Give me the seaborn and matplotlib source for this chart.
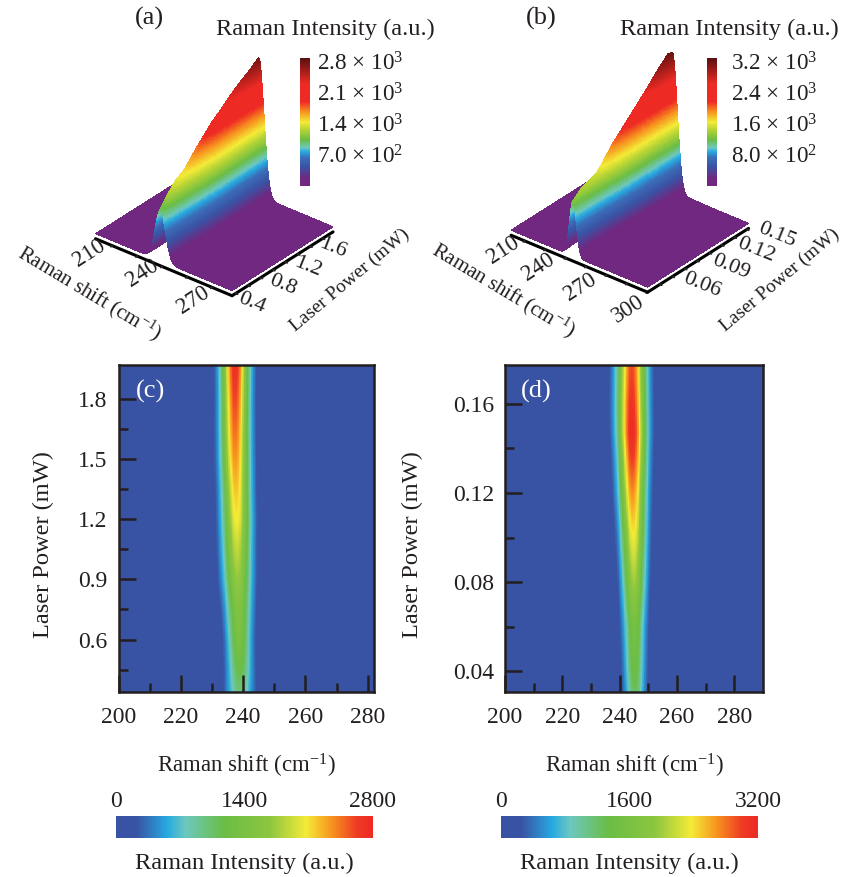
import numpy as np
import pandas as pd
import matplotlib
matplotlib.use("Agg")
import matplotlib.pyplot as plt
from matplotlib.colors import LinearSegmentedColormap, Normalize
from matplotlib.cm import ScalarMappable
from matplotlib.ticker import FixedLocator
import seaborn as sns

# ---- values: peak height / centre / width against laser power
power_c = [0.34, 0.45, 0.60, 0.75, 0.90, 1.05, 1.20, 1.35, 1.50, 1.65, 1.80, 1.97]
height_c = [1000, 1200, 1400, 1500, 1700, 1880, 2070, 2200, 2350, 2480, 2600, 2750]
centre_c = [238.9, 238.9, 238.7, 238.5, 238.2, 238.0, 237.9, 237.7, 237.5, 237.4, 237.4, 237.4]
sigma_c = [3.1, 2.9, 2.8, 3.0, 3.2, 3.25, 3.25, 3.2, 3.2, 3.15, 3.1, 3.1]

power_d = [0.03, 0.04, 0.06, 0.08, 0.10, 0.12, 0.135, 0.147, 0.16, 0.17, 0.178]
height_d = [1250, 1400, 1550, 2000, 2350, 2700, 3000, 3200, 3100, 3000, 2950]
centre_d = [245.3, 245.2, 245.1, 245.0, 244.8, 244.5, 244.4, 244.3, 244.2, 244.2, 244.2]
sigma_d = [2.5, 2.55, 2.7, 2.9, 3.1, 3.3, 3.4, 3.5, 3.55, 3.55, 3.55]

xlim_c, ylim_c = (200, 282), (0.339, 1.968)
xlim_d, ylim_d = (200, 290), (0.0306, 0.1775)
ylim_b = (0.03, 0.152)
xticks_maj = [200, 220, 240, 260, 280]
xticks_min = [210, 230, 250, 270]
yticks_c_maj = [0.6, 0.9, 1.2, 1.5, 1.8]
yticks_c_min = [0.45, 0.75, 1.05, 1.35, 1.65]
yticks_d_maj = [0.04, 0.08, 0.12, 0.16]
yticks_d_min = [0.06, 0.10, 0.14]

vmax_c, vmax_d = 2800, 3200
vmax3d_a, vmax3d_b = 2870, 3280
cbar3d_a = [700, 1400, 2100, 2800]
cbar3d_a_lab = [r"7.0 × 10$^{2}$", r"1.4 × 10$^{3}$", r"2.1 × 10$^{3}$", r"2.8 × 10$^{3}$"]
cbar3d_b = [800, 1600, 2400, 3200]
cbar3d_b_lab = [r"8.0 × 10$^{2}$", r"1.6 × 10$^{3}$", r"2.4 × 10$^{3}$", r"3.2 × 10$^{3}$"]
x3d_a = [210, 240, 270]
x3d_a_min = [225, 255]
y3d_a = [0.4, 0.8, 1.2, 1.6]
y3d_a_min = [0.6, 1.0, 1.4, 1.8]
x3d_b = [210, 240, 270, 300]
x3d_b_min = [225, 255, 285]
y3d_b = [0.06, 0.09, 0.12, 0.15]
y3d_b_min = [0.045, 0.075, 0.105, 0.135]

# colour stops as seen in the two kinds of colour bars
stops_flat = [(0, "#3953A4"), (0.08, "#3953A4"), (0.20, "#27AAE1"), (0.27, "#6DC8BF"), (0.42, "#6ABD45"),
              (0.60, "#8DC63F"), (0.74, "#F4EB37"), (0.84, "#F7941E"), (0.94, "#EE3A24"), (1, "#EE2A24")]
stops_3d = [(0, "#702880"), (0.06, "#702880"), (0.15, "#3953A4"), (0.22, "#3A6DB8"), (0.27, "#27AAE1"), (0.30, "#6DC8BF"),
            (0.36, "#6ABD45"), (0.44, "#B5D334"), (0.50, "#F4EB37"), (0.58, "#F7941E"), (0.66, "#EE2A24"),
            (0.80, "#EE2A24"), (1, "#5A1010")]
cmap_flat = LinearSegmentedColormap.from_list("flat", stops_flat, N=512)
cmap_3d = LinearSegmentedColormap.from_list("rise", stops_3d, N=512)

sns.set_theme(style="white")
plt.rcParams["font.family"] = ["Liberation Serif", "DejaVu Sans"]
plt.rcParams["mathtext.fontset"] = "custom"
plt.rcParams["mathtext.rm"] = "Liberation Serif"
plt.rcParams["mathtext.default"] = "regular"
plt.rcParams["text.color"] = "#231F20"
FS = 17
FT = 17.6
FTAG = 19
W, H = 842, 877
INK = "#231F20"

fig = plt.figure(figsize=(W / 100, H / 100), dpi=100, facecolor="white")


def box(l, t, r, b):
    return [l / W, 1 - b / H, (r - l) / W, (b - t) / H]


def field(xs, ps, power, height, centre, sigma):
    h = np.interp(ps, power, height)
    c = np.interp(ps, power, centre)
    s = np.interp(ps, power, sigma)
    return h[:, None] * np.exp(-((xs[None, :] - c[:, None]) ** 2) / (2 * s[:, None] ** 2))


def flat_panel(rect, crect, xlim, ylim, power, height, centre, sigma, vmax, ymaj, ymin_t, yfmt, tag, tagpos, ctick, ylab_x):
    ax = fig.add_axes(box(*rect))
    cax = fig.add_axes(box(*crect))
    xs = np.linspace(xlim[0], xlim[1], 400)
    ps = np.linspace(ylim[1], ylim[0], 330)
    df = pd.DataFrame(field(xs, ps, power, height, centre, sigma), index=ps, columns=xs)
    sns.heatmap(df, ax=ax, cmap=cmap_flat, vmin=0, vmax=vmax, cbar=True, cbar_ax=cax,
                cbar_kws={"orientation": "horizontal"}, xticklabels=False, yticklabels=False, rasterized=True)
    ax.set_axisbelow(False)
    fx = lambda v: (np.asarray(v) - xlim[0]) / (xlim[1] - xlim[0]) * len(xs)
    fy = lambda v: (ylim[1] - np.asarray(v)) / (ylim[1] - ylim[0]) * len(ps)
    ax.set_xticks(fx(xticks_maj))
    ax.set_xticklabels([str(v) for v in xticks_maj], fontsize=FS, color=INK, rotation=0)
    ax.xaxis.set_minor_locator(FixedLocator(fx(xticks_min)))
    ax.set_yticks(fy(ymaj))
    ax.set_yticklabels([yfmt % v for v in ymaj], fontsize=FS, color=INK, rotation=0)
    ax.yaxis.set_minor_locator(FixedLocator(fy(ymin_t)))
    ax.tick_params(which="major", direction="in", length=12, width=1.8, color=INK, bottom=True, left=True)
    ax.tick_params(which="minor", direction="in", length=6.5, width=1.8, color=INK, bottom=True, left=True)
    ax.tick_params(axis="x", which="major", pad=11)
    ax.tick_params(axis="y", which="major", pad=8)
    for s in ax.spines.values():
        s.set_visible(True)
        s.set_linewidth(1.8)
        s.set_color(INK)
    ax.set_xlabel(r"Raman shift (cm$^{-1}$)", fontsize=16.5, color=INK, labelpad=17)
    ax.set_ylabel("Laser Power (mW)", fontsize=FT, color=INK)
    ax.yaxis.set_label_coords(ylab_x, 0.45)
    ax.text(tagpos[0], tagpos[1], tag, transform=ax.transAxes, color="white", fontsize=FTAG, ha="center", va="center")
    cax.xaxis.set_ticks_position("top")
    cax.xaxis.set_label_position("bottom")
    cax.set_xticks(ctick)
    cax.set_xticklabels([str(v) for v in ctick], fontsize=FS, color=INK)
    cax.tick_params(axis="x", length=0, pad=3)
    cax.set_xlabel("Raman Intensity (a.u.)", fontsize=FT, color=INK, labelpad=11)
    for s in cax.spines.values():
        s.set_visible(False)


flat_panel((118.5, 365, 374, 692), (116, 816, 373, 838), xlim_c, ylim_c, power_c, height_c, centre_c, sigma_c,
           vmax_c, yticks_c_maj, yticks_c_min, "%.1f", "(c)", (0.125, 0.92), [0, 1400, 2800], -0.252)
flat_panel((505, 365, 763, 692), (501, 816, 758, 838), xlim_d, ylim_d, power_d, height_d, centre_d, sigma_d,
           vmax_d, yticks_d_maj, yticks_d_min, "%.2f", "(d)", (0.12, 0.92), [0, 1600, 3200], -0.317)


def pin_label(text, px, py):
    """Keep a 3D axis or tick label at a fixed place on the figure."""
    orig = text.draw

    def draw(renderer):
        text._transform = fig.transFigure
        text.set_position((px / W, 1 - py / H))
        text.set_ha("center")
        text.set_va("center")
        text.set_rotation_mode("anchor")
        orig(renderer)

    text.draw = draw


def surf_panel(rect, crect, xlim, ylim, power, height, centre, sigma, vmax, xt, xm, yt, ym, yfmt, ct, ctl,
               tag, tagxy, titlexy, cpad, xlab_xy, ylab_xy, xt_xy, yt_xy):
    ax = fig.add_axes(box(*rect), projection="3d", computed_zorder=False)
    ax.patch.set_alpha(0)
    ax.set_proj_type("ortho")
    ax.view_init(elev=30.9, azim=-50.9)
    xs = np.concatenate([np.linspace(xlim[0], 226, 4), np.linspace(226, 256, 300)[1:], np.linspace(256, xlim[1], 4)[1:]])
    ps = np.linspace(ylim[0], ylim[1], 120)
    Z = field(xs, ps, power, height, centre, sigma)
    X, Y = np.meshgrid(xs, ps)
    ax.plot_surface(X, Y, Z, cmap=cmap_3d, vmin=0, vmax=vmax, rstride=1, cstride=1, linewidth=0, antialiased=False, shade=False)
    zoff = 0.035 * vmax
    ax.set_xlim(*xlim)
    ax.set_ylim(*ylim)
    ax.set_zlim(-zoff, vmax)
    ax.set_box_aspect((179, 163, 177), zoom=0.894)
    xall = sorted(xt + xm)
    yall = sorted(yt + ym)
    yall = [v for v in yall if ylim[0] <= v <= ylim[1]]
    ax.set_xticks(xall)
    ax.set_xticklabels([str(v) if v in xt else "" for v in xall], fontsize=16.5, color=INK, rotation=33)
    ax.set_yticks(yall)
    ax.set_yticklabels([yfmt % v if v in yt else "" for v in yall], fontsize=16, color=INK, rotation=-22)
    ax.set_zticks([])
    ax.xaxis.set_rotate_label(False)
    ax.yaxis.set_rotate_label(False)
    ax.set_xlabel(r"Raman shift (cm$^{-1}$)", fontsize=15, color=INK, rotation=-31)
    ax.set_ylabel("Laser Power (mW)", fontsize=14, color=INK, rotation=40)
    pin_label(ax.xaxis.label, *xlab_xy)
    pin_label(ax.yaxis.label, *ylab_xy)
    for tick, v in zip(ax.xaxis.get_major_ticks(), xall):
        if v in xt:
            pin_label(tick.label1, *xt_xy[xt.index(v)])
    for tick, v in zip(ax.yaxis.get_major_ticks(), yall):
        if v in yt:
            pin_label(tick.label1, *yt_xy[yt.index(v)])
    for a in (ax.xaxis, ax.yaxis, ax.zaxis):
        a.pane.set_visible(False)
        a._axinfo["grid"]["linewidth"] = 0
        a._axinfo["grid"]["color"] = (1, 1, 1, 0)
    ax.grid(False)
    ax.zaxis.line.set_color((1, 1, 1, 0))
    for a in (ax.xaxis, ax.yaxis):
        a.line.set_color("black")
        a.line.set_linewidth(2.2)
        a._axinfo["tick"]["inward_factor"] = 0.15
        a._axinfo["tick"]["outward_factor"] = 0.0
        a._axinfo["tick"]["linewidth"] = {True: 1.6, False: 1.0}
        a._axinfo["tick"]["color"] = "black"
    cax = fig.add_axes(box(*crect))
    cb = fig.colorbar(ScalarMappable(Normalize(0, vmax), cmap_3d), cax=cax)
    cb.outline.set_visible(False)
    cb.set_ticks(ct)
    cb.set_ticklabels(ctl)
    cax.tick_params(length=0, pad=cpad, labelsize=FS - 0.3, labelcolor=INK)
    fig.text(tagxy[0] / W, 1 - tagxy[1] / H, tag, fontsize=FTAG, color=INK, ha="center", va="center")
    fig.text(titlexy[0] / W, 1 - titlexy[1] / H, "Raman Intensity (a.u.)", fontsize=FT, color=INK, ha="center", va="center")
    return ax


surf_panel((15, 5, 405, 325), (300, 58, 310, 186), (200, 282), ylim_c, power_c, height_c, centre_c, sigma_c,
           vmax3d_a, x3d_a, x3d_a_min, y3d_a, y3d_a_min, "%.1f", cbar3d_a, cbar3d_a_lab, "(a)", (149, 18), (325.5, 29), 5,
           (90, 293), (350, 280),
           [(89, 253), (142, 273), (193, 300)], [(252, 303), (283, 285), (308, 267), (333, 248)])
surf_panel((430.5, 1.5, 820.5, 321.5), (707, 58, 717, 186), (200, 300), ylim_b, power_d, height_d, centre_d, sigma_d,
           vmax3d_b, x3d_b, x3d_b_min, y3d_b, y3d_b_min, "%.2f", cbar3d_b, cbar3d_b_lab, "(b)", (541, 18), (729.5, 29), 10,
           (504, 290), (780, 280),
           [(503, 250), (538, 267), (580, 287), (628, 309)], [(702, 285), (731, 267), (756, 250), (777, 235)])

fig.savefig("out.png", dpi=100, facecolor="white")
